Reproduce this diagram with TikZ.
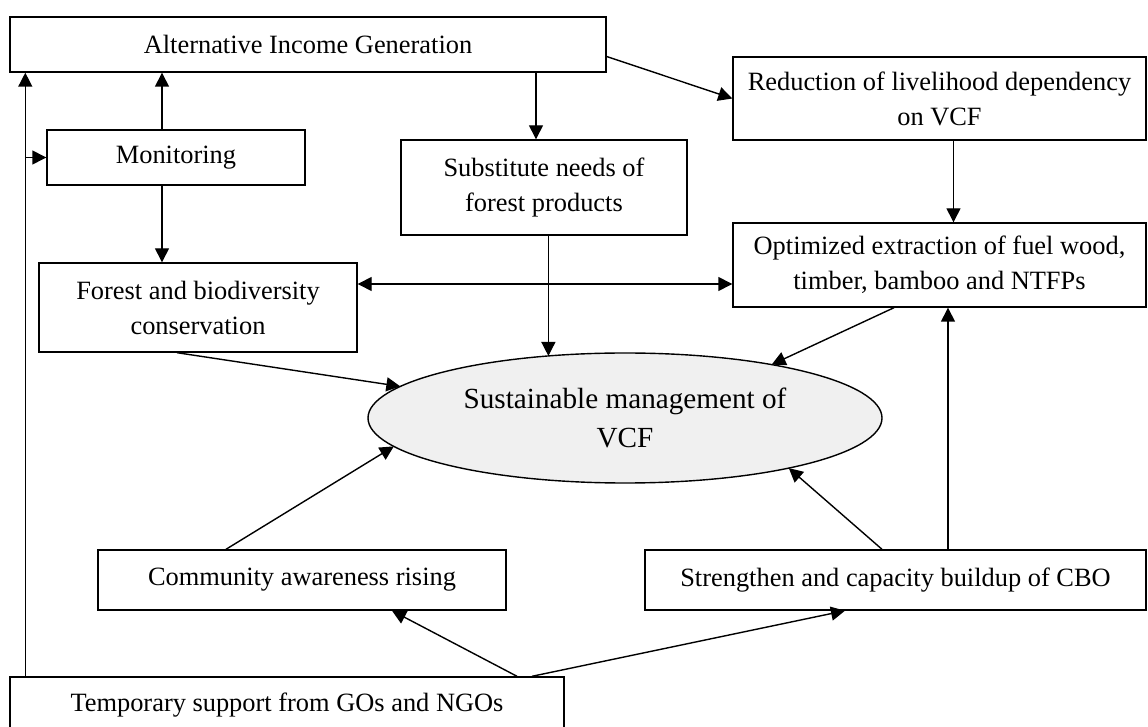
\documentclass[tikz,border=0pt]{standalone}
\usepackage{fontspec}
\setmainfont{Liberation Serif}
\usetikzlibrary{arrows.meta,shapes.geometric}
\definecolor{ellfill}{RGB}{240,240,240}

\begin{document}
\begin{tikzpicture}[x=0.5pt,y=-0.5pt,
    box/.style={draw, line width=0.7pt, align=center, inner sep=0pt,
      font=\fontsize{13.2}{17.5}\selectfont},
    arr/.style={-{Triangle[length=7pt,width=7pt]}, line width=0.7pt},
    arrs/.style={{Triangle[length=7pt,width=7pt]}-{Triangle[length=7pt,width=7pt]}, line width=0.7pt}]
\useasboundingbox (0,0) rectangle (1148,727);
\clip (0,0) rectangle (1148,727);
\node[box, minimum width=298pt, minimum height=27.5pt] (alt) at (308,44.5) {Alternative Income Generation};
\node[box, minimum width=129pt, minimum height=27.5pt] (mon) at (176,157.5) {Monitoring};
\node[box, minimum width=143pt, minimum height=47.5pt] (subst) at (544,187.5) {Substitute needs of\\forest products};
\node[box, minimum width=206.5pt, minimum height=41.5pt] (reduc) at (939.5,98.5) {Reduction of livelihood dependency\\on VCF};
\node[box, minimum width=206.5pt, minimum height=42pt] (optim) at (939.5,265) {Optimized extraction of fuel wood,\\timber, bamboo and NTFPs};
\node[box, minimum width=159pt, minimum height=44.5pt] (forest) at (198,307.5) {Forest and biodiversity\\conservation};
\node[ellipse, draw, fill=ellfill, line width=0.7pt, inner sep=0pt, outer sep=0pt, align=center,
  minimum width=257pt, minimum height=65pt, font=\fontsize{14.6}{19.5}\selectfont] (susman) at (625,418) {Sustainable management of\\VCF};
\node[box, minimum width=204pt, minimum height=30pt] (comm) at (302,580) {Community awareness rising};
\node[box, minimum width=250.5pt, minimum height=30pt] (cbo) at (895.5,580) {Strengthen and capacity buildup of CBO};
\node[box, minimum width=277pt, minimum height=28pt] (temp) at (287,705) {Temporary support from GOs and NGOs};

% left side
\draw[arr] ([xshift=8pt]temp.north west) -- ([xshift=8pt]alt.south west);
\draw[arr] ([xshift=8pt]temp.north west |- mon.west) -- (mon.west);
\draw[arr] ([xshift=-7pt]mon.north) -- ([xshift=-7pt]mon.north |- alt.south);
\draw[arr] ([xshift=-7pt]mon.south) -- ([xshift=-7pt]mon.south |- forest.north);

% top
\draw[arr] ([xshift=-4pt]subst.north |- alt.south) -- ([xshift=-4pt]subst.north);
\draw[arr] ([yshift=-6pt]alt.east) -- (reduc.west);
\draw[arr] ([xshift=7pt]reduc.south) -- ([xshift=7pt]optim.north);
\draw[arrs] ([yshift=-9.5pt]optim.west -| forest.east) -- ([yshift=-9.5pt]optim.west);

% into the ellipse
\draw[arr] (susman.141.5 |- subst.south) -- (susman.141.5);
\draw[arr] ([xshift=-10.5pt]forest.south) -- (susman.172);
\draw[arr] ([xshift=-22.75pt]optim.south) -- (susman.20);
\draw[arr] ([xshift=-38pt]comm.north) -- (susman.187);
\draw[arr] ([xshift=-6.75pt]cbo.north) -- (susman.343);
\draw[arr] ([xshift=26.25pt]cbo.north) -- ([xshift=26.25pt]cbo.north |- optim.south);

% bottom
\draw[arr] ([xshift=115pt]temp.north) -- ([xshift=45pt]comm.south);
\draw[arr] ([xshift=122.5pt]temp.north) -- ([xshift=-25.25pt]cbo.south);
\end{tikzpicture}
\end{document}
